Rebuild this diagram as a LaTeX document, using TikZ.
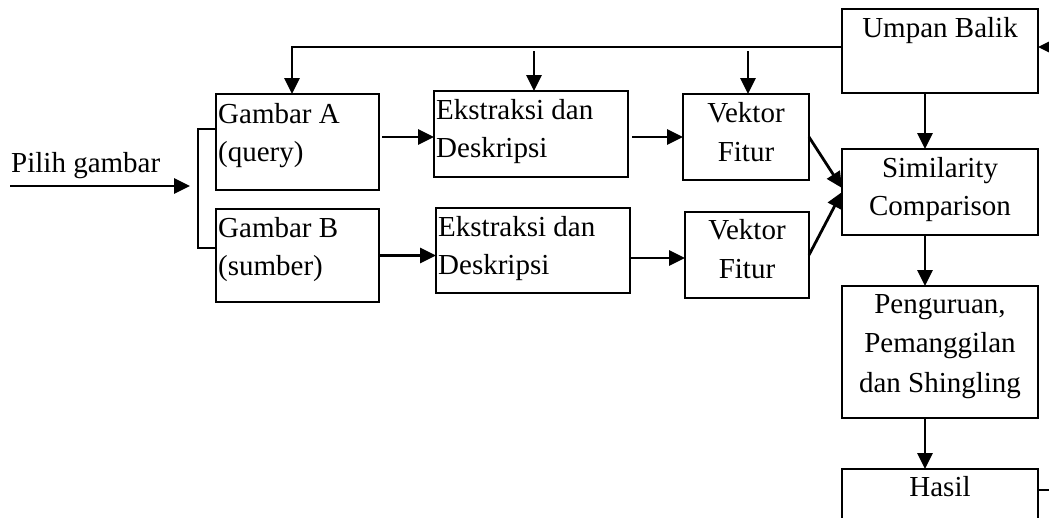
\documentclass[tikz,border=0pt]{standalone}
\usepackage{fontspec}
\setmainfont{Liberation Serif}
\usetikzlibrary{arrows.meta}
\begin{document}
\begin{tikzpicture}[x=1pt,y=-1pt,
  box/.style={draw,line width=2.2pt,rectangle,inner sep=0pt,outer sep=0pt},
  txt/.style={inner sep=0pt,font=\fontsize{29pt}{39pt}\selectfont},
  ln/.style={line width=2.8pt},
  arr/.style={line width=2.8pt,-{Triangle[length=16pt,width=15pt]}}]
\useasboundingbox (0,0) rectangle (1049,517);
\clip (0,0) rectangle (1049,517);

% process boxes
\node[box,minimum width=196pt,minimum height=84pt]  (ub)  at (940,51)    {};
\node[box,minimum width=163pt,minimum height=96pt]  (ga)  at (297.5,142) {};
\node[box,minimum width=163pt,minimum height=93pt]  (gb)  at (297.5,255.5) {};
\node[box,minimum width=194pt,minimum height=86pt]  (ek1) at (531,134)   {};
\node[box,minimum width=194pt,minimum height=85pt]  (ek2) at (533,250.5) {};
\node[box,minimum width=126pt,minimum height=86pt]  (vk1) at (746,137)   {};
\node[box,minimum width=124pt,minimum height=86pt]  (vk2) at (747,255)   {};
\node[box,minimum width=196pt,minimum height=86pt]  (sim) at (940,192)   {};
\node[box,minimum width=196pt,minimum height=132pt] (pg)  at (940,352)   {};
\node[box,minimum width=196pt,minimum height=90pt]  (hs)  at (940,514)   {};

% labels
\node[txt,anchor=base]      (t-ub)  at (940,37)  {Umpan Balik};
\node[txt,anchor=base west] (t-pil) at (11,172)  {Pilih gambar};
\node[txt,anchor=base west] (t-ga1) at (218,123) {Gambar A};
\node[txt,anchor=base west] (t-ga2) at (218,161) {(query)};
\node[txt,anchor=base west] (t-gb1) at (218,237) {Gambar B};
\node[txt,anchor=base west] (t-gb2) at (218,275) {(sumber)};
\node[txt,anchor=base west] (t-e11) at (436,119) {Ekstraksi dan};
\node[txt,anchor=base west] (t-e12) at (436,157) {Deskripsi};
\node[txt,anchor=base west] (t-e21) at (438,236) {Ekstraksi dan};
\node[txt,anchor=base west] (t-e22) at (438,274) {Deskripsi};
\node[txt,anchor=base] (t-v11) at (746,122) {Vektor};
\node[txt,anchor=base] (t-v12) at (746,161) {Fitur};
\node[txt,anchor=base] (t-v21) at (747,239) {Vektor};
\node[txt,anchor=base] (t-v22) at (747,278) {Fitur};
\node[txt,anchor=base] (t-s1) at (940,177) {Similarity};
\node[txt,anchor=base] (t-s2) at (940,215) {Comparison};
\node[txt,anchor=base] (t-p1) at (940,313) {Penguruan,};
\node[txt,anchor=base] (t-p2) at (940,352.5) {Pemanggilan};
\node[txt,anchor=base] (t-p3) at (940,392) {dan Shingling};
\node[txt,anchor=base] (t-h)  at (940,496) {Hasil};

% free ends
\coordinate (pin)  at (10,186);
\coordinate (pout) at (190,186);
\coordinate (fb1)  at (534,51);
\coordinate (fb2)  at (748,51);
\coordinate (rin)  at (1049,47);
\coordinate (rout) at (1049,490);

% feedback loop
\draw[arr] ([yshift=4pt]ub.west) -| ([xshift=-5.5pt]ga.north);
\draw[arr] (fb1) -- (fb1 |- ek1.north);
\draw[arr] (fb2) -- (fb2 |- vk1.north);
\draw[arr] (rin) -- (rin -| ub.east);
\draw[ln] (rout -| hs.east) -- (rout);

% input and split
\draw[arr] (pin) -- (pout);
\draw[ln] ([yshift=13pt]ga.west) -- ++(-18,0) |- ([yshift=7.5pt]gb.west);

% main flow
\draw[arr] ([xshift=3pt,yshift=5pt]ga.east) -- ([yshift=5pt]ga.east -| ek1.west);
\draw[arr] (gb.east) -- (gb.east -| ek2.west);
\draw[arr] ([xshift=4pt]vk1.west -| ek1.east) -- (vk1.west);
\draw[arr] ([yshift=-3pt]vk2.west -| ek2.east) -- ([yshift=-3pt]vk2.west);
\draw[arr] (vk1.east) -- ([yshift=4pt]sim.west);
\draw[arr] (vk2.east) -- (sim.west);
\draw[arr] ([xshift=-15pt]ub.south) -- ([xshift=-15pt]sim.north);
\draw[arr] ([xshift=-15pt]sim.south) -- ([xshift=-15pt]pg.north);
\draw[arr] ([xshift=-15pt]pg.south) -- ([xshift=-15pt]hs.north);
\end{tikzpicture}
\end{document}
